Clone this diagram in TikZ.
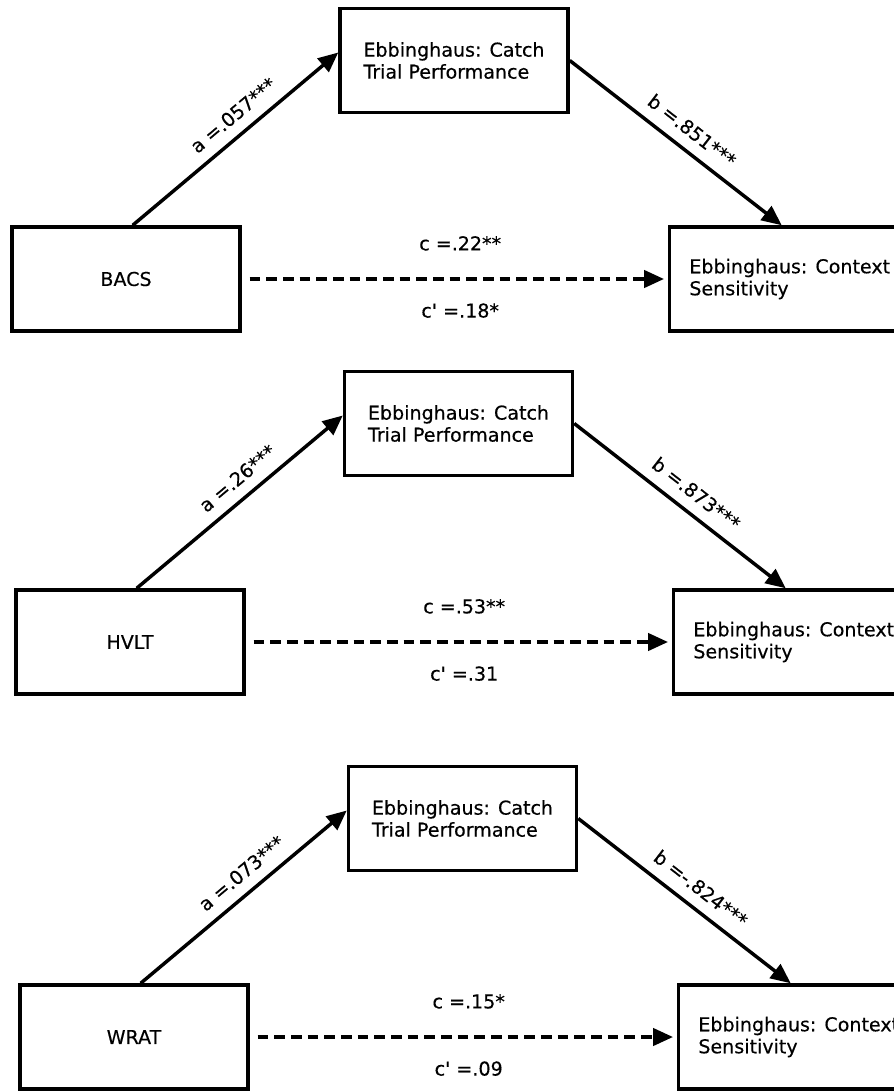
\documentclass[tikz,border=0pt]{standalone}
\usepackage{fontspec}
\setmainfont{DejaVu Sans}[FakeBold=0.4]
\usetikzlibrary{arrows.meta}

\begin{document}
\begin{tikzpicture}[x=0.75pt,y=-0.75pt,
  every node/.style={font=\fontsize{14.3}{16.5}\selectfont},
  box/.style={draw,line width=2.6pt,minimum width=171pt,minimum height=78pt,align=left},
  outbox/.style={box,minimum width=180pt,anchor=west},
  lbl/.style={inner sep=2pt},
  link/.style={line width=2.6pt,-{Triangle[length=15pt,width=13pt]}},
  total/.style={link,dash pattern=on 8pt off 4.5pt,shorten <=6pt,shorten >=3pt}]
\useasboundingbox (0,0) rectangle (893,1091);

% BACS
\node[box] (med1) at (454,60.5) {Ebbinghaus: Catch\\Trial Performance};
\node[box] (src1) at (126,279) {BACS};
\node[outbox] (out1) at (668,279) {Ebbinghaus: Context\\Sensitivity};
\draw[link] ([xshift=5pt]src1.north) -- node[lbl,sloped,above=6pt,pos=.55] {a =.057***} ([yshift=6pt]med1.west);
\draw[link] (med1.east) -- node[lbl,sloped,above=6pt,pos=.52] {b =.851***} ([xshift=-6pt]out1.north);
\draw[total] (src1.east) -- node[lbl,above=18pt,xshift=4pt] {c =.22**} node[lbl,below=15pt,xshift=4pt] {c\textquotesingle{} =.18*} (out1.west);

% HVLT
\node[box] (med2) at (458.5,423.5) {Ebbinghaus: Catch\\Trial Performance};
\node[box] (src2) at (130,642) {HVLT};
\node[outbox] (out2) at (672,642) {Ebbinghaus: Context\\Sensitivity};
\draw[link] ([xshift=5pt]src2.north) -- node[lbl,sloped,above=6pt,pos=.55] {a =.26***} ([yshift=6pt]med2.west);
\draw[link] (med2.east) -- node[lbl,sloped,above=6pt,pos=.52] {b =.873***} ([xshift=-6pt]out2.north);
\draw[total] (src2.east) -- node[lbl,above=18pt,xshift=4pt] {c =.53**} node[lbl,below=15pt,xshift=4pt] {c\textquotesingle{} =.31} (out2.west);

% WRAT
\node[box] (med3) at (462.5,818.5) {Ebbinghaus: Catch\\Trial Performance};
\node[box] (src3) at (134,1037) {WRAT};
\node[outbox] (out3) at (677,1037) {Ebbinghaus: Context\\Sensitivity};
\draw[link] ([xshift=5pt]src3.north) -- node[lbl,sloped,above=6pt,pos=.55] {a =.073***} ([yshift=6pt]med3.west);
\draw[link] (med3.east) -- node[lbl,sloped,above=6pt,pos=.52] {b =-.824***} ([xshift=-6pt]out3.north);
\draw[total] (src3.east) -- node[lbl,above=18pt,xshift=4pt] {c =.15*} node[lbl,below=15pt,xshift=4pt] {c\textquotesingle{} =.09} (out3.west);
\end{tikzpicture}
\end{document}
